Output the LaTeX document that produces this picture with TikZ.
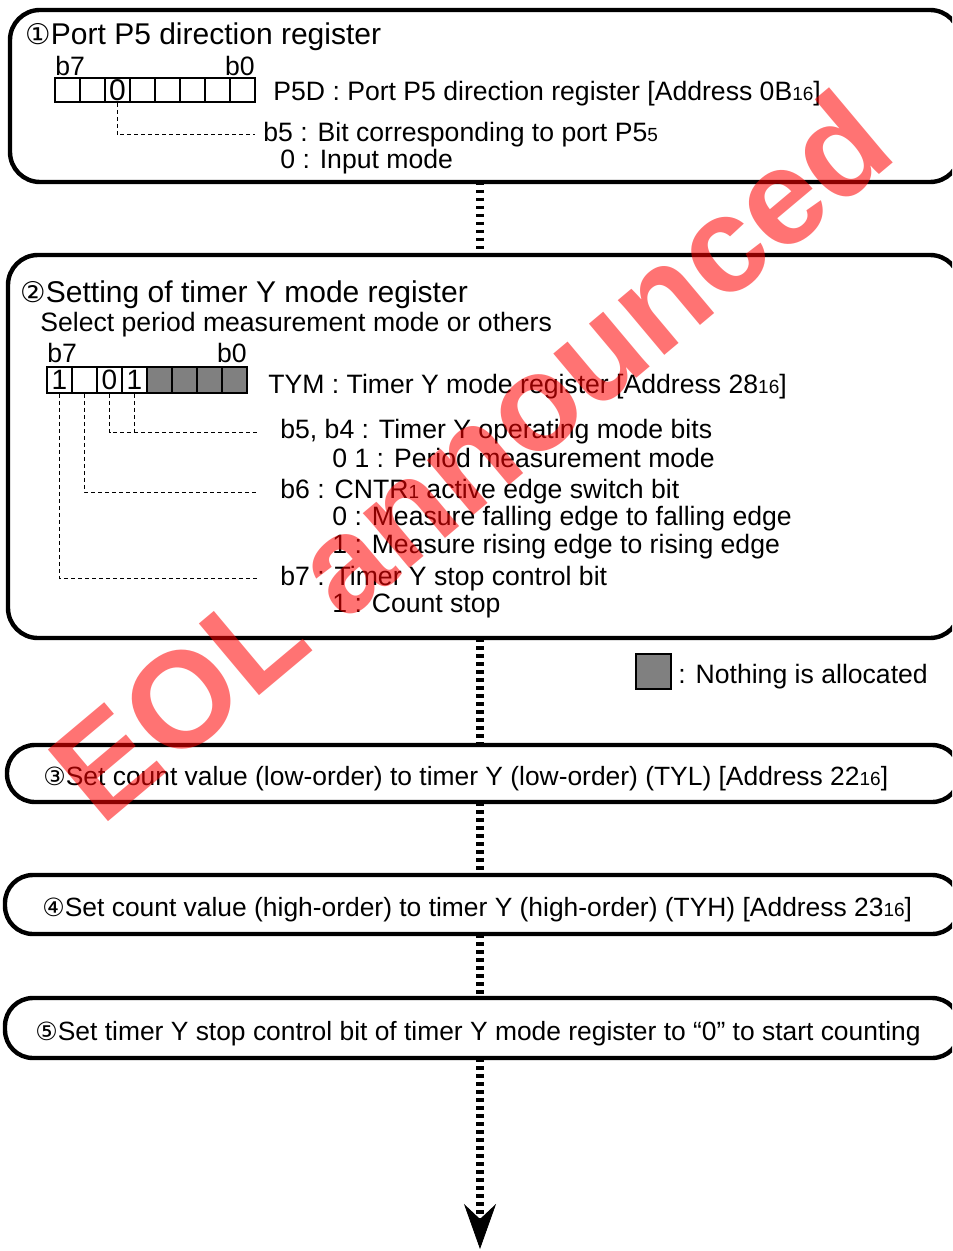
\documentclass[tikz,border=0pt]{standalone}
\usepackage{fontspec}
\setmainfont{Liberation Sans}
\newfontfamily\circfont[Scale=0.95]{DejaVu Sans}
\usetikzlibrary{arrows.meta}
\newcommand{\sml}[1]{{\fontsize{9.5}{9.5}\selectfont #1}}
\newcommand{\cnum}[1]{{\circfont #1}}
\tikzset{
  bigbox/.style={draw,line width=2.2pt,rounded corners=15pt,anchor=north west,outer sep=0pt,inner sep=0pt},
  stepbox/.style={draw,line width=2.2pt,rounded corners=14pt,anchor=north west,outer sep=0pt,inner sep=0pt},
  txt/.style={anchor=base west,inner sep=0pt,font=\fontsize{13.3}{14}\selectfont},
  head/.style={anchor=base west,inner sep=0pt,font=\fontsize{15}{16}\selectfont},
  bitcell/.style={draw,line width=0.8pt,minimum width=12.5pt,minimum height=12pt,inner sep=0pt,font=\fontsize{14}{14}\selectfont},
  nilcell/.style={bitcell,fill=gray},
  leader/.style={line width=0.5pt,dash pattern=on 2pt off 1.5pt},
  flow/.style={line width=4pt,dash pattern=on 1.75pt off 2.25pt},
}
\begin{document}
\begin{tikzpicture}[x=0.5pt,y=-0.5pt]
\useasboundingbox (0,0) rectangle (952,1251);
\clip (0,0) rectangle (952,1251);
% step boxes
\node[bigbox,minimum width=475pt,minimum height=86pt] (step1) at (10,10) {};
\node[bigbox,minimum width=476pt,minimum height=191.5pt] (step2) at (8,255) {};
\node[stepbox,minimum width=476.5pt,minimum height=28.5pt] (step3) at (7,745) {};
\node[stepbox,minimum width=477.5pt,minimum height=29.5pt] (step4) at (5,875) {};
\node[stepbox,minimum width=477.5pt,minimum height=30pt] (step5) at (5,998) {};
% flow
\coordinate (spine) at (480,0);
\coordinate (flowend) at (480,1249);
\draw[flow] (step1.south -| spine) -- (step2.north -| spine);
\draw[flow] (step2.south -| spine) -- (step3.north -| spine);
\draw[flow] (step3.south -| spine) -- (step4.north -| spine);
\draw[flow] (step4.south -| spine) -- (step5.north -| spine);
\draw[flow,-{Stealth[length=22.5pt,width=16pt,inset=7.5pt,line width=0.4pt]}] (step5.south -| spine) -- (flowend);
% port P5 direction register
\node[head] (p5head) at (25,45) {\cnum{①}Port P5 direction register};
\node[txt] (p5b7lbl) at (55,76) {b7};
\node[txt,anchor=base east] (p5b0lbl) at (255,76) {b0};
\foreach \b/\v [count=\i from 0] in {7/{},6/{},5/0,4/{},3/{},2/{},1/{},0/{}}
  \node[bitcell,font=\fontsize{15}{15}\selectfont] (p5b\b) at ({67.5+25*\i},90) {\v};
\node[txt] (p5dtxt) at (273,101) {P5D : Port P5 direction register [Address 0B\sml{16}]};
\coordinate (p5lead) at (255,135);
\draw[leader] (p5b5.south) |- (p5lead);
\node[txt] (p5b5txt) at (263,142) {b5 : Bit corresponding to port P5\sml{5}};
\node[txt] (p5b5val) at (280,169) {0 : Input mode};
% timer Y mode register
\node[head] (tyhead) at (20,303) {\cnum{②}Setting of timer Y mode register};
\node[txt] (tysel) at (40,331) {Select period measurement mode or others};
\node[txt] (tyb7lbl) at (47,363) {b7};
\node[txt,anchor=base east] (tyb0lbl) at (247,363) {b0};
\foreach \b/\v [count=\i from 0] in {7/1,6/{},5/0,4/1}
  \node[bitcell,minimum height=13pt] (tyb\b) at ({59.5+25*\i},380) {\v};
\foreach \b [count=\i from 4] in {3,2,1,0}
  \node[nilcell,minimum height=13pt] (tyb\b) at ({59.5+25*\i},380) {};
\node[txt] (tymtxt) at (268,393) {TYM : Timer Y mode register [Address 28\sml{16}]};
\coordinate (tyleadA) at (257,432);
\coordinate (tyleadB) at (257,492);
\coordinate (tyleadC) at (257,578);
\draw[leader] (tyb5.south) |- (tyleadA);
\draw[leader] (tyb4.south) -- (tyb4.south |- tyleadA);
\draw[leader] (tyb6.south) |- (tyleadB);
\draw[leader] (tyb7.south) |- (tyleadC);
\node[txt] (tyb54txt) at (280,438) {b5, b4 : Timer Y operating mode bits};
\node[txt] (tyb54val) at (332,467) {0 1 : Period measurement mode};
\node[txt] (tyb6txt) at (280,498) {b6 : CNTR\sml{1} active edge switch bit};
\node[txt] (tyb6val0) at (332,525) {0 : Measure falling edge to falling edge};
\node[txt] (tyb6val1) at (332,553) {1 : Measure rising edge to rising edge};
\node[txt] (tyb7txt) at (280,585) {b7 : Timer Y stop control bit};
\node[txt] (tyb7val) at (332,612) {1 : Count stop};
% legend
\node[nilcell,line width=0.6pt,minimum size=17.5pt] (nilkey) at (653.5,671.5) {};
\node[txt] (nilnote) at (678,683) {: Nothing is allocated};
% count values and start
\node[txt,font=\fontsize{13.2}{14}\selectfont] (step3txt) at (43,785) {\cnum{③}Set count value (low-order) to timer Y (low-order) (TYL) [Address 22\sml{16}]};
\node[txt,font=\fontsize{13.2}{14}\selectfont] (step4txt) at (42,916) {\cnum{④}Set count value (high-order) to timer Y (high-order) (TYH) [Address 23\sml{16}]};
\node[txt,font=\fontsize{13.2}{14}\selectfont] (step5txt) at (35,1040) {\cnum{⑤}Set timer Y stop control bit of timer Y mode register to “0” to start counting};
% watermark
\node[rotate=40,text=red,text opacity=0.55,inner sep=0pt,font=\fontsize{68}{68}\selectfont\bfseries] (eol) at (470,455) {EOL announced};
\end{tikzpicture}
\end{document}
